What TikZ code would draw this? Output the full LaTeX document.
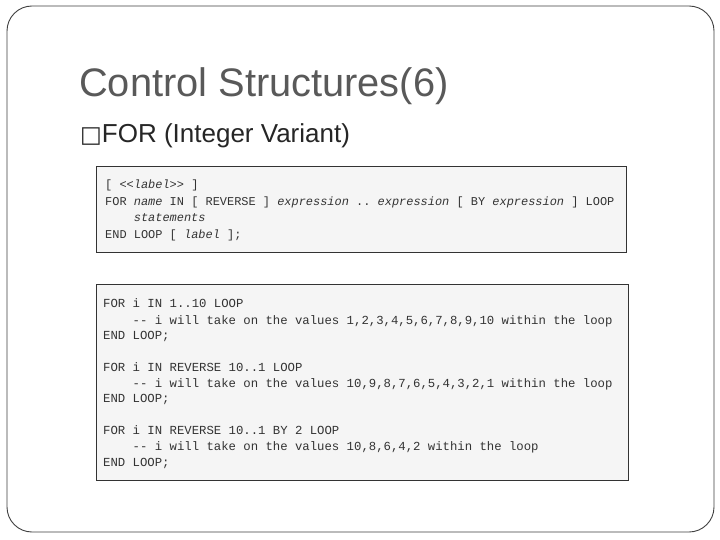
\documentclass[tikz,border=0pt]{standalone}
\usepackage{fontspec}
\setmainfont{Liberation Sans}
\setmonofont{Liberation Mono}
\newfontfamily\djv{DejaVu Sans}
\begin{document}
\begin{tikzpicture}[x=1pt,y=-1pt,
  codebox/.style={draw=black!80,fill=black!4,line width=0.8pt},
  code/.style={anchor=base west,inner sep=0pt,font=\ttfamily\fontsize{11.95}{14}\selectfont,text=black!80},
  codeb/.style={anchor=base west,inner sep=0pt,font=\ttfamily\fontsize{12.3}{14}\selectfont,text=black!80}]
\useasboundingbox (0,0) rectangle (720,540);
\fill[white] (0,0) rectangle (720,540);
\draw[black!75,line width=0.9pt,rounded corners=25] (7,6) rectangle (714,532);
\node[anchor=base west,inner sep=0pt,font=\fontsize{39.8}{42}\selectfont,text=black!65] (title) at (79,97) {Control Structures(6)};
\node[anchor=base west,inner sep=0pt,font=\fontsize{26}{28}\selectfont,text=black!85] (bullet) at (80,143) {{\djv\fontsize{23}{26}\selectfont □}FOR (Integer Variant)};
\draw[codebox] (96,166) rectangle (626,252);
\node[code] (a1) at (105,189) {[ <{}<\textit{label}>{}> ]};
\node[code] (a2) at (105,206) {FOR \textit{name} IN [ REVERSE ] \textit{expression} .. \textit{expression} [ BY \textit{expression} ] LOOP};
\node[code] (a3) at (105,222) {\phantom{XXXX}\textit{statements}};
\node[code] (a4) at (105,239) {END LOOP [ \textit{label} ];};
\draw[codebox] (96,284) rectangle (628,480);
\node[codeb] (b1) at (103,307) {FOR i IN 1..10 LOOP};
\node[codeb] (b2) at (103,324) {\phantom{XXXX}{-}{-} i will take on the values 1,2,3,4,5,6,7,8,9,10 within the loop};
\node[codeb] (b3) at (103,339) {END LOOP;};
\node[codeb] (b4) at (103,371) {FOR i IN REVERSE 10..1 LOOP};
\node[codeb] (b5) at (103,387) {\phantom{XXXX}{-}{-} i will take on the values 10,9,8,7,6,5,4,3,2,1 within the loop};
\node[codeb] (b6) at (103,402) {END LOOP;};
\node[codeb] (b7) at (103,434) {FOR i IN REVERSE 10..1 BY 2 LOOP};
\node[codeb] (b8) at (103,450) {\phantom{XXXX}{-}{-} i will take on the values 10,8,6,4,2 within the loop};
\node[codeb] (b9) at (103,466) {END LOOP;};
\end{tikzpicture}
\end{document}
